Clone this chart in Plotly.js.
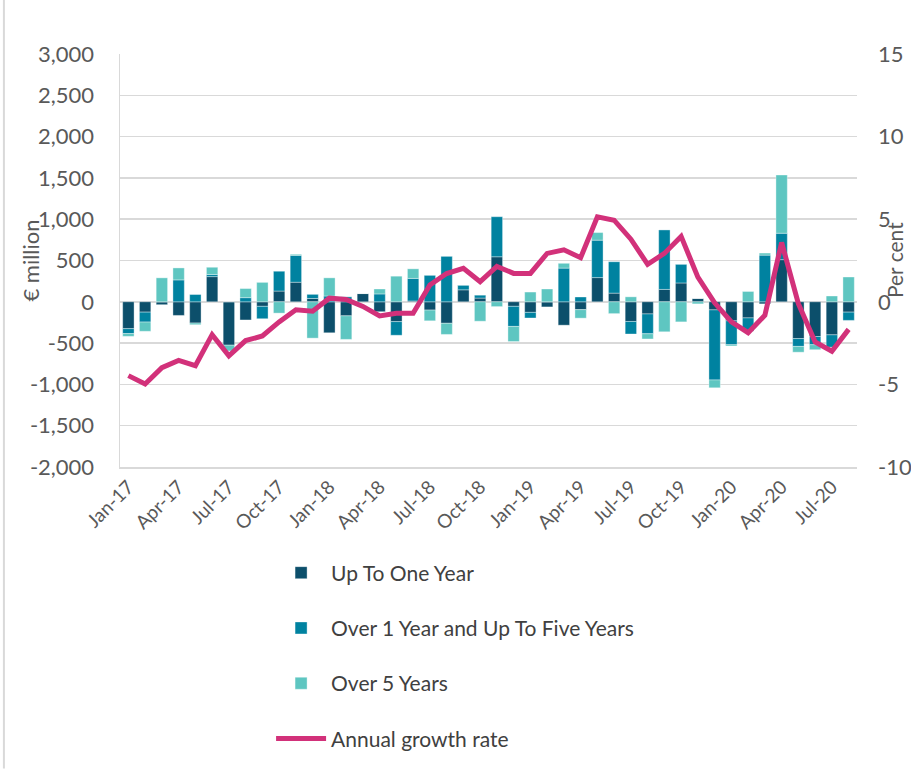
<!DOCTYPE html>
<html>
<head>
<meta charset="utf-8">
<script src="https://cdn.plot.ly/plotly-3.0.1.min.js"></script>
<style>html,body{margin:0;padding:0;background:#fff;}#chart{width:911px;height:771px;}</style>
</head>
<body>
<div id="chart"></div>
<script>
const months = ["Jan-17","Feb-17","Mar-17","Apr-17","May-17","Jun-17","Jul-17","Aug-17","Sep-17","Oct-17","Nov-17","Dec-17",
"Jan-18","Feb-18","Mar-18","Apr-18","May-18","Jun-18","Jul-18","Aug-18","Sep-18","Oct-18","Nov-18","Dec-18",
"Jan-19","Feb-19","Mar-19","Apr-19","May-19","Jun-19","Jul-19","Aug-19","Sep-19","Oct-19","Nov-19","Dec-19",
"Jan-20","Feb-20","Mar-20","Apr-20","May-20","Jun-20","Jul-20","Aug-20"];

const upToOneYear = [-325,-125,-35,-165,-257,305,-525,-220,-55,130,237,40,
-375,-170,100,-120,-240,10,-100,-260,145,45,545,-55,
-128,-62,-283,-95,293,105,-238,-147,150,228,40,-98,
-230,-195,-25,510,-445,-420,-400,-125];

const over1To5Years = [-60,-120,0,265,88,25,0,50,-150,240,325,50,
70,60,0,95,-165,273,320,550,57,35,485,-243,
-68,0,408,58,453,380,-152,-240,720,225,0,-848,
-290,-160,565,320,-95,-100,-150,-100];

const over5Years = [-33,-112,290,145,-20,88,-70,110,235,-137,13,-440,
220,-285,0,60,310,116,-130,-135,0,-235,-58,-183,
118,155,58,-103,92,-143,60,-63,-363,-243,-25,-95,
-15,125,25,705,-70,-60,70,300];

const annualGrowthRate = [-4.47,-4.98,-3.99,-3.55,-3.87,-1.99,-3.27,-2.35,-2.07,-1.22,-0.48,-0.57,
0.22,0.14,-0.28,-0.86,-0.70,-0.70,1.02,1.71,2.03,1.22,2.14,1.72,
1.72,2.93,3.15,2.67,5.14,4.94,3.79,2.27,2.93,3.96,1.49,-0.06,
-1.22,-1.87,-0.82,3.59,-0.12,-2.43,-2.99,-1.67];

const xTickLabels = months.filter((m, i) => i % 3 === 0);
const leftTickVals = [-2000,-1500,-1000,-500,0,500,1000,1500,2000,2500,3000];
const leftTickText = ["-2,000","-1,500","-1,000","-500","0","500","1,000","1,500","2,000","2,500","3,000"];
const rightTickVals = [-10,-5,0,5,10,15];
const rightTickText = ["-10","-5","0","5","10","15"];

const font = "Lato, 'Open Sans', sans-serif";
const barLine = {color: "rgba(255,255,255,0.6)", width: 0.6};

const traces = [
  {type: "bar", name: "Up To One Year", x: months, y: upToOneYear,
   marker: {color: "#0c4f6b", line: barLine}, legendgroup: "a"},
  {type: "bar", name: "Over 1 Year and Up To Five Years", x: months, y: over1To5Years,
   marker: {color: "#0082a0", line: barLine}, legendgroup: "b"},
  {type: "bar", name: "Over 5 Years", x: months, y: over5Years,
   marker: {color: "#5ec6c1", line: barLine}, legendgroup: "c"},
  {type: "scatter", mode: "lines", name: "Annual growth rate", x: months, y: annualGrowthRate,
   yaxis: "y2", line: {color: "#d2317a", width: 5}, legendgroup: "d"}
];

const layout = {
  width: 911, height: 771,
  margin: {l: 120, r: 54, t: 54, b: 302},
  paper_bgcolor: "#fff", plot_bgcolor: "#fff",
  barmode: "relative", bargap: 0.32,
  font: {family: font, color: "#595959", size: 20},
  showlegend: true,
  legend: {
    orientation: "v", x: 0.205, xanchor: "left", y: -0.207, yanchor: "top",
    font: {family: font, size: 21, color: "#404040"},
    tracegroupgap: 25, itemwidth: 50, bgcolor: "rgba(0,0,0,0)"
  },
  xaxis: {
    type: "category", tickmode: "array", tickvals: xTickLabels, ticktext: xTickLabels,
    tickangle: -45, tickfont: {size: 19, color: "#595959"},
    showgrid: false, showline: true, linecolor: "#d9d9d9", linewidth: 1.5,
    ticks: "", zeroline: false
  },
  yaxis: {
    range: [-2000, 3000], tickmode: "array", tickvals: leftTickVals, ticktext: leftTickText,
    showgrid: true, gridcolor: "#d9d9d9", gridwidth: 1.5,
    zeroline: false, showline: true, linecolor: "#d9d9d9", linewidth: 1.5,
    ticks: "", ticklabelstandoff: 20, tickfont: {size: 22, color: "#595959"}
  },
  yaxis2: {
    overlaying: "y", side: "right", range: [-10, 15],
    tickmode: "array", tickvals: rightTickVals, ticktext: rightTickText,
    showgrid: false, zeroline: false, showline: false, ticks: "",
    ticklabelstandoff: 20, tickfont: {size: 22, color: "#595959"}
  },
  shapes: [
    {type: "line", xref: "paper", yref: "paper", x0: -0.1575, x1: -0.1575, y0: -0.73, y1: 1.14,
     line: {color: "#d9d9d9", width: 2}}
  ],
  annotations: [
    {text: "€ million", xref: "paper", yref: "paper", x: -0.122, y: 0.5,
     xanchor: "center", yanchor: "middle", textangle: -90, showarrow: false,
     font: {family: font, size: 22, color: "#595959"}},
    {text: "Per cent", xref: "paper", yref: "paper", x: 1.051, y: 0.5,
     xanchor: "center", yanchor: "middle", textangle: -90, showarrow: false,
     font: {family: font, size: 21, color: "#595959"}}
  ]
};

Plotly.newPlot("chart", traces, layout, {displayModeBar: false, staticPlot: true});
</script>
</body>
</html>
